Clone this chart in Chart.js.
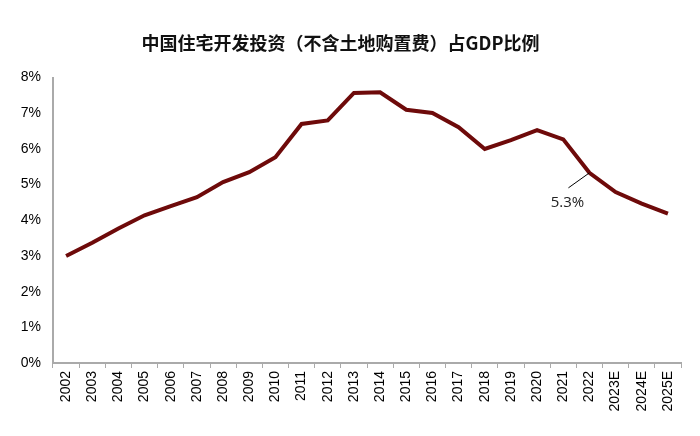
<!DOCTYPE html>
<html>
<head>
<meta charset="utf-8">
<script src="https://cdn.jsdelivr.net/npm/chart.js@4"></script>
<style>
  html, body { margin: 0; padding: 0; background: #fff; }
  #wrap { width: 700px; height: 436px; }
</style>
</head>
<body>
<div id="wrap"><canvas id="chart" width="700" height="436"></canvas></div>
<script>
const years = ['2002', '2003', '2004', '2005', '2006', '2007', '2008', '2009', '2010', '2011', '2012', '2013',
    '2014', '2015', '2016', '2017', '2018', '2019', '2020', '2021', '2022', '2023E', '2024E', '2025E'];
const share = [3.0, 3.37, 3.77, 4.14, 4.40, 4.65, 5.07, 5.35, 5.77, 6.70, 6.80, 7.57,
    7.59, 7.10, 7.01, 6.61, 6.00, 6.25, 6.53, 6.27, 5.33, 4.79, 4.47, 4.19];
const yTicks = [0, 1, 2, 3, 4, 5, 6, 7, 8];
const calloutYear = '2022';

const calloutPlugin = {
    id: 'callout',
    afterDatasetsDraw(chart) {
        const idx = years.indexOf(calloutYear);
        const pt = chart.getDatasetMeta(0).data[idx];
        const ctx = chart.ctx;
        ctx.save();
        ctx.strokeStyle = '#000';
        ctx.lineWidth = 1;
        ctx.beginPath();
        ctx.moveTo(pt.x, pt.y);
        ctx.lineTo(pt.x - 21, pt.y + 15);
        ctx.stroke();
        ctx.fillStyle = '#222';
        ctx.font = '15px "Open Sans", sans-serif';
        ctx.textAlign = 'center';
        ctx.textBaseline = 'middle';
        ctx.fillText(share[idx].toFixed(1) + '%', pt.x - 22, pt.y + 30);
        ctx.restore();
    }
};

new Chart(document.getElementById('chart'), {
    type: 'line',
    data: {
        labels: years,
        datasets: [{
            data: share,
            borderColor: '#6e0a0a',
            borderWidth: 4,
            pointRadius: 0,
            tension: 0,
            fill: false
        }]
    },
    options: {
        responsive: false,
        animation: false,
        layout: { padding: { left: 0, right: 19, bottom: 0 } },
        plugins: {
            legend: { display: false },
            tooltip: { enabled: false },
            title: {
                display: true,
                text: '中国住宅开发投资（不含土地购置费）占GDP比例',
                color: '#111',
                font: { family: '"Noto Sans CJK SC", sans-serif', size: 18, weight: 'bold' },
                padding: { top: 32, bottom: 24 }
            }
        },
        scales: {
            x: {
                offset: true,
                grid: { drawOnChartArea: false, drawTicks: true, tickLength: 5, color: '#aaa', offset: true },
                border: { color: '#aaa', width: 2 },
                ticks: {
                    autoSkip: false,
                    maxRotation: 90,
                    minRotation: 90,
                    padding: 3,
                    color: '#000',
                    font: { family: '"Liberation Sans", Arial, sans-serif', size: 14 }
                },
                afterFit(scale) { scale.height = 73; }
            },
            y: {
                min: 0,
                max: 8,
                afterBuildTicks(scale) { scale.ticks = yTicks.map(v => ({ value: v })); },
                grid: { display: false, drawTicks: false },
                border: { color: '#aaa', width: 2 },
                ticks: {
                    padding: 12,
                    color: '#000',
                    font: { family: '"Liberation Sans", Arial, sans-serif', size: 14 },
                    callback: v => v + '%'
                },
                afterFit(scale) { scale.width = 53; }
            }
        }
    },
    plugins: [calloutPlugin]
});
</script>
</body>
</html>
